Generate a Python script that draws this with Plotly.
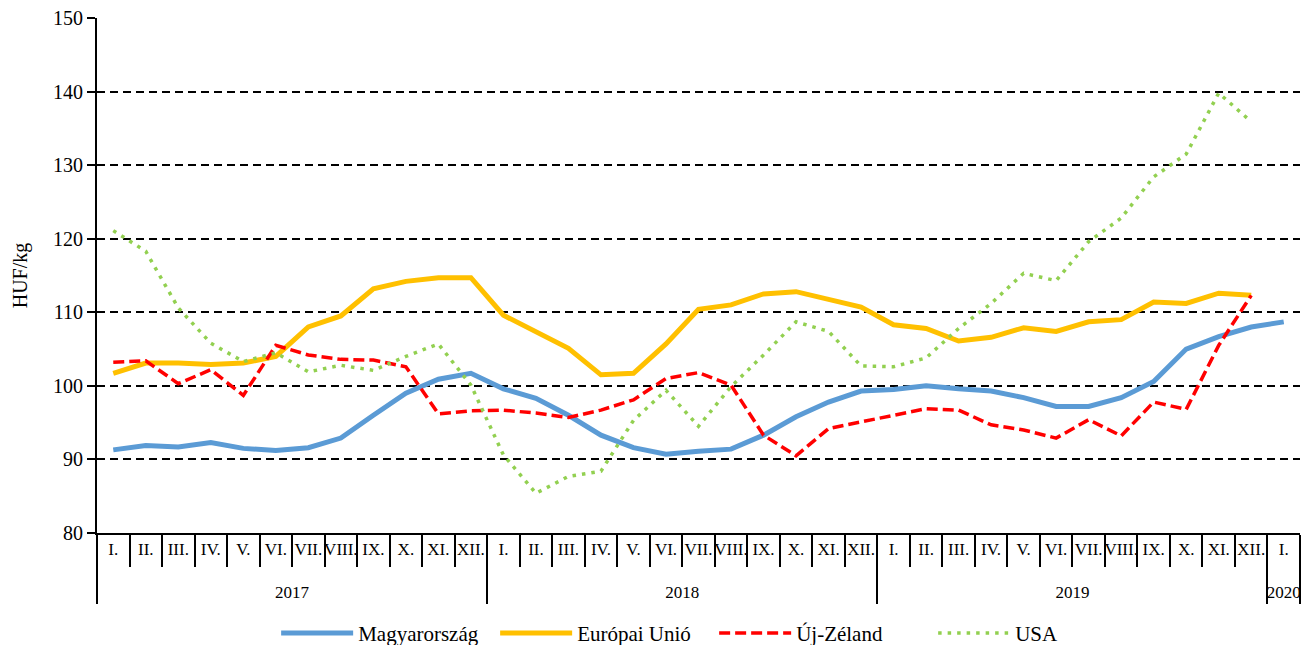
import plotly.graph_objects as go

years = ["2017"] * 12 + ["2018"] * 12 + ["2019"] * 12 + ["2020"]
months = ["I.", "II.", "III.", "IV.", "V.", "VI.", "VII.", "VIII.", "IX.", "X.", "XI.", "XII."] * 3 + ["I."]

magyarorszag = [91.3, 91.9, 91.7, 92.3, 91.5, 91.2, 91.6, 92.9, 96.0, 99.0, 100.9, 101.7,
                99.6, 98.3, 96.0, 93.3, 91.6, 90.7, 91.1, 91.4, 93.3, 95.8, 97.8, 99.3,
                99.5, 100.0, 99.6, 99.3, 98.4, 97.2, 97.2, 98.4, 100.6, 105.0, 106.7, 108.0,
                108.7]
europai_unio = [101.7, 103.1, 103.1, 102.9, 103.1, 104.0, 108.0, 109.5, 113.2, 114.2, 114.7, 114.7,
                109.6, 107.4, 105.1, 101.5, 101.7, 105.7, 110.4, 111.0, 112.5, 112.8, 111.8, 110.7,
                108.3, 107.8, 106.1, 106.6, 107.9, 107.4, 108.7, 109.0, 111.4, 111.2, 112.6, 112.3]
uj_zeland = [103.2, 103.4, 100.3, 102.2, 98.7, 105.5, 104.2, 103.6, 103.5, 102.6, 96.2, 96.6,
             96.7, 96.3, 95.7, 96.7, 98.1, 101.0, 101.8, 100.1, 93.3, 90.5, 94.2, 95.1,
             96.0, 96.9, 96.7, 94.7, 94.0, 92.9, 95.4, 93.2, 97.8, 96.8, 105.5, 112.3]
usa = [121.1, 118.3, 110.6, 105.8, 103.3, 104.5, 101.9, 102.8, 102.1, 104.0, 105.7, 100.1,
       90.6, 85.4, 87.7, 88.4, 95.3, 99.4, 94.5, 99.9, 104.2, 108.7, 107.4, 102.7,
       102.6, 103.8, 107.8, 111.2, 115.3, 114.3, 119.6, 122.8, 128.4, 131.5, 139.8, 135.9]

FONT = "Liberation Serif, Times New Roman, serif"

# month labels get an empty second line so the year row sits lower, as in the original
month_labels = [m + "<br> " for m in months]

def xs(n):
    return [years[:n], month_labels[:n]]

fig = go.Figure()
fig.add_trace(go.Scatter(x=xs(len(magyarorszag)), y=magyarorszag, name="Magyarország", mode="lines",
                         line=dict(color="#5B9BD5", width=5)))
fig.add_trace(go.Scatter(x=xs(len(europai_unio)), y=europai_unio, name="Európai Unió", mode="lines",
                         line=dict(color="#FFC000", width=5)))
fig.add_trace(go.Scatter(x=xs(len(uj_zeland)), y=uj_zeland, name="Új-Zéland", mode="lines",
                         line=dict(color="#FF0000", width=3.5, dash="11px,5px")))
fig.add_trace(go.Scatter(x=xs(len(usa)), y=usa, name="USA", mode="lines",
                         line=dict(color="#92D050", width=3.5, dash="3.5px,6px")))

fig.update_layout(
    width=1304, height=645,
    margin=dict(l=97, r=4, t=18, b=112, autoexpand=False),
    paper_bgcolor="white", plot_bgcolor="white",
    font=dict(family=FONT, size=20, color="black"),
    showlegend=True,
    legend=dict(orientation="h", x=0.513, xanchor="center", y=-0.195, yanchor="middle",
                font=dict(size=21, family=FONT, color="black"), itemwidth=72,
                entrywidth=132, traceorder="normal"),
    xaxis=dict(type="multicategory", range=[-0.5, 36.5], showline=True, linecolor="black", linewidth=2,
               ticks="outside", ticklen=32, tickwidth=2, tickcolor="black",
               ticklabelstandoff=0, tickangle=0, automargin=False,
               tickfont=dict(size=17, family=FONT, color="black"), showdividers=True,
               dividercolor="black", dividerwidth=2, showgrid=False, mirror=False),
    yaxis=dict(range=[80, 150], dtick=10, showline=True, linecolor="black", linewidth=2,
               ticks="outside", ticklen=8, tickwidth=2, tickcolor="black", automargin=False,
               showgrid=True, gridcolor="black", gridwidth=2, griddash="8px,5px",
               zeroline=False, tickfont=dict(size=20, family=FONT, color="black"),
               title=dict(text="HUF/kg", font=dict(size=20, family=FONT, color="black"), standoff=20)),
)

fig.write_html("out.html", config={"displayModeBar": False},
               post_script="document.body.style.margin='0px';document.body.style.overflow='hidden';")
